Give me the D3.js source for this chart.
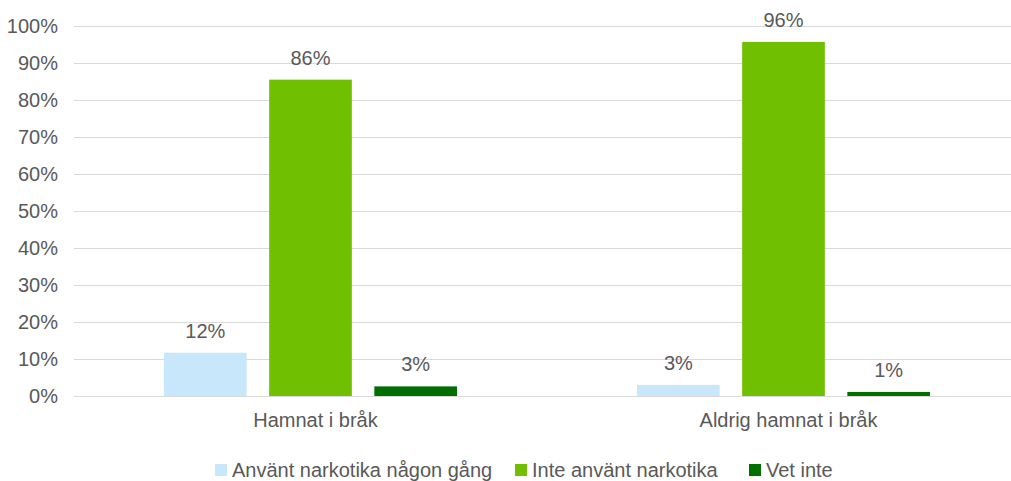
<!DOCTYPE html>
<html>
<head>
<meta charset="utf-8">
<script src="https://cdn.jsdelivr.net/npm/d3@7"></script>
<style>
  body { margin: 0; background: #fff; }
  text { font-family: "Liberation Sans", Arial, sans-serif; fill: #595959; }
</style>
</head>
<body>
<div id="chart"></div>
<script>
// Chart size and plot box
const width = 1011;
const height = 481;
const margin = { top: 26, right: -9, bottom: 85, left: 74 };

// Data
const categories = ["Hamnat i bråk", "Aldrig hamnat i bråk"];
const series = ["Använt narkotika någon gång", "Inte använt narkotika", "Vet inte"];
const usedDrugs = [11.7, 3.0];
const notUsed = [85.5, 95.7];
const dontKnow = [2.6, 1.1];
const yTicks = [0, 10, 20, 30, 40, 50, 60, 70, 80, 90, 100];
const colors = ["#c9e7fb", "#70bf00", "#006f00"];

const values = [usedDrugs, notUsed, dontKnow];
const rows = [];
categories.forEach((c, i) => {
  series.forEach((s, j) => rows.push({ cat: c, ser: s, value: values[j][i] }));
});

const svg = d3.select("#chart")
  .append("svg")
  .attr("width", width)
  .attr("height", height);

// Scales
const x0 = d3.scaleBand()
  .domain(categories)
  .range([margin.left, width - margin.right]);

const x1 = d3.scaleBand()
  .domain(series)
  .range([90, x0.bandwidth() - 90])
  .paddingInner(0.214);

const y = d3.scaleLinear()
  .domain([0, 100])
  .range([height - margin.bottom, margin.top]);

const color = d3.scaleOrdinal().domain(series).range(colors);

// Gridlines
svg.append("g")
  .selectAll("line")
  .data(yTicks)
  .join("line")
  .attr("x1", margin.left)
  .attr("x2", width)
  .attr("y1", d => Math.round(y(d)) + 0.5)
  .attr("y2", d => Math.round(y(d)) + 0.5)
  .attr("stroke", "#d9d9d9")
  .attr("stroke-width", 1);

// Y axis labels
const yAxis = d3.axisLeft(y)
  .tickValues(yTicks)
  .tickSize(0)
  .tickPadding(16)
  .tickFormat(d => d + "%");

svg.append("g")
  .attr("transform", `translate(${margin.left}, 0)`)
  .call(yAxis)
  .call(g => g.select(".domain").remove())
  .call(g => g.selectAll("text")
    .attr("font-size", "20px")
    .attr("fill", "#595959")
    .attr("font-family", "Liberation Sans, Arial, sans-serif"));

// X axis labels
const xAxis = d3.axisBottom(x0).tickSize(0).tickPadding(17);

svg.append("g")
  .attr("transform", `translate(5, ${y(0)})`)
  .call(xAxis)
  .call(g => g.select(".domain").remove())
  .call(g => g.selectAll("text")
    .attr("font-size", "20px")
    .attr("fill", "#595959")
    .attr("font-family", "Liberation Sans, Arial, sans-serif"));

// Bars
const bars = svg.append("g")
  .selectAll("g")
  .data(rows)
  .join("g");

bars.append("rect")
  .attr("x", d => x0(d.cat) + x1(d.ser))
  .attr("y", d => y(d.value))
  .attr("width", x1.bandwidth())
  .attr("height", d => y(0) - y(d.value))
  .attr("fill", d => color(d.ser));

// Value labels
bars.append("text")
  .attr("x", d => x0(d.cat) + x1(d.ser) + x1.bandwidth() / 2)
  .attr("y", d => y(d.value) - 15)
  .attr("text-anchor", "middle")
  .attr("font-size", "20px")
  .attr("fill", "#404040")
  .text(d => Math.round(d.value) + "%");

// Legend
const legendX = [215, 515, 749];
const legend = svg.append("g")
  .selectAll("g")
  .data(series)
  .join("g")
  .attr("transform", (d, i) => `translate(${legendX[i]}, ${height - 4})`);

legend.append("rect")
  .attr("x", 0)
  .attr("y", -13)
  .attr("width", 12)
  .attr("height", 12)
  .attr("fill", d => color(d));

legend.append("text")
  .attr("x", 17)
  .attr("y", 0)
  .attr("font-size", "20px")
  .text(d => d);
</script>
</body>
</html>
